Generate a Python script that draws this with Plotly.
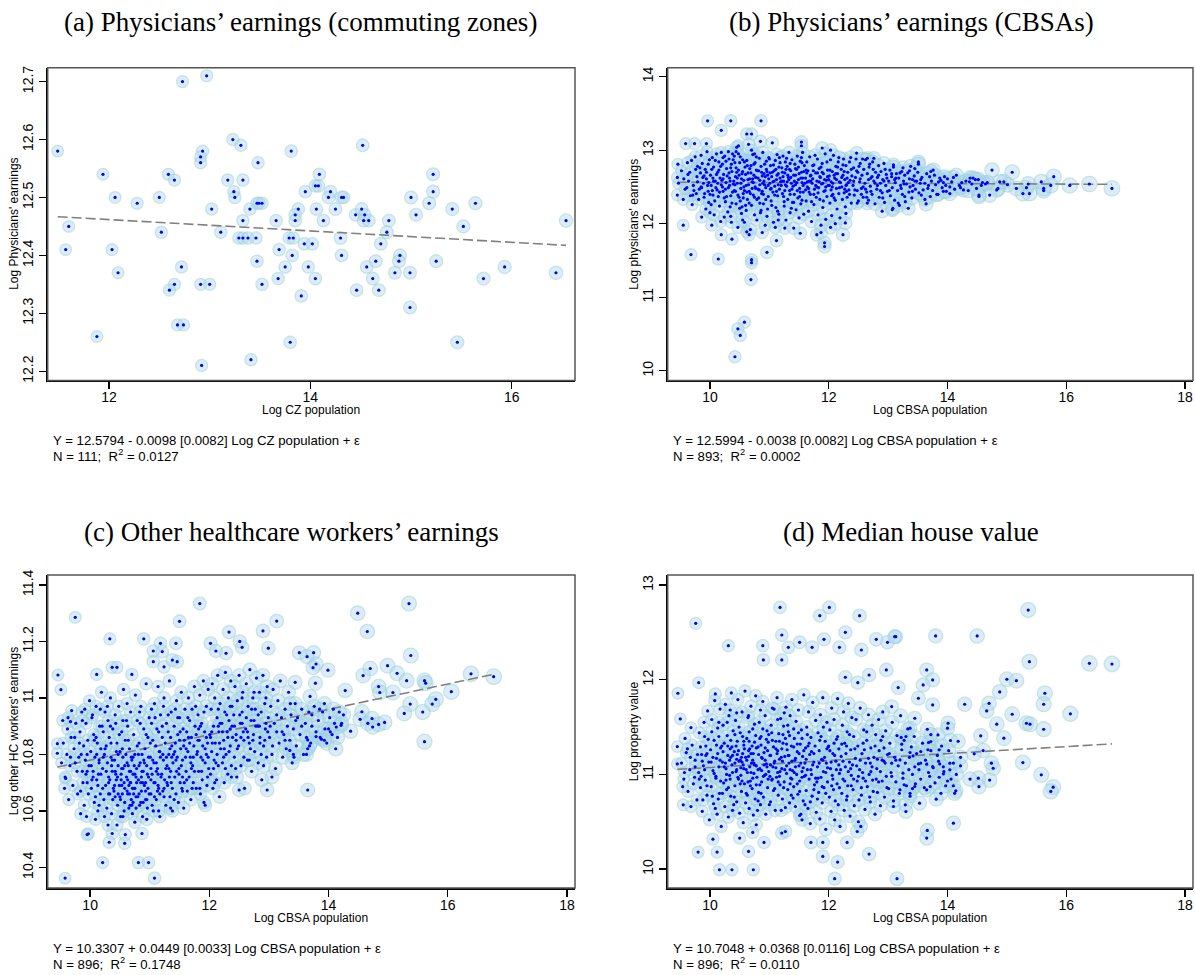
import plotly.graph_objects as go

# ---------------- data ----------------
# (a) commuting zones: (log CZ population, log physicians' earnings)
cz_points = [
    (11.49, 12.58), (11.60, 12.45), (11.57, 12.41), (11.88, 12.26), (11.94, 12.54), (12.06, 12.50),
    (12.03, 12.41), (12.09, 12.37), (12.28, 12.49), (12.50, 12.50), (12.52, 12.44), (12.59, 12.54),
    (12.65, 12.53), (12.73, 12.70), (12.97, 12.71), (12.72, 12.38), (12.65, 12.35), (12.60, 12.34),
    (12.68, 12.28), (12.74, 12.28), (12.91, 12.35), (13.00, 12.35), (12.92, 12.21), (12.93, 12.58),
    (12.91, 12.57), (12.91, 12.56), (13.02, 12.48), (13.11, 12.44), (13.23, 12.60), (13.31, 12.59),
    (13.18, 12.53), (13.33, 12.53), (13.24, 12.51), (13.25, 12.50), (13.48, 12.56), (13.40, 12.48),
    (13.33, 12.46), (13.47, 12.49), (13.49, 12.49), (13.52, 12.49), (13.29, 12.43), (13.33, 12.43),
    (13.38, 12.43), (13.46, 12.43), (13.47, 12.39), (13.52, 12.35), (13.41, 12.22), (13.66, 12.46),
    (13.81, 12.58), (13.88, 12.48), (13.85, 12.47), (13.85, 12.46), (13.79, 12.43), (13.83, 12.43),
    (13.69, 12.41), (13.82, 12.40), (13.75, 12.38), (13.68, 12.36), (13.91, 12.33), (13.80, 12.25),
    (13.95, 12.51), (13.94, 12.42), (13.98, 12.38), (14.02, 12.42),
    (14.52, 12.59), (14.09, 12.54), (14.05, 12.52), (14.08, 12.52), (14.20, 12.51), (14.18, 12.50),
    (14.31, 12.50), (14.33, 12.50), (14.06, 12.48), (14.25, 12.48), (14.13, 12.46), (14.45, 12.47),
    (14.51, 12.48), (14.54, 12.47), (14.53, 12.46), (14.58, 12.46), (14.78, 12.46), (14.76, 12.44),
    (14.30, 12.43), (14.70, 12.42), (14.31, 12.40), (14.05, 12.36), (14.56, 12.38), (14.65, 12.39),
    (14.62, 12.36), (14.46, 12.34), (14.68, 12.34), (14.89, 12.40), (14.88, 12.39), (14.84, 12.37),
    (14.99, 12.37), (14.99, 12.31), (15.00, 12.50), (15.05, 12.47), (15.22, 12.54), (15.22, 12.51),
    (15.18, 12.49), (15.25, 12.39), (15.41, 12.48), (15.52, 12.45), (15.64, 12.49), (15.46, 12.25),
    (15.72, 12.36), (15.93, 12.38), (16.44, 12.37), (16.54, 12.46),
]

# (b) CBSAs: (log CBSA population, log physicians' earnings)
cbsa_phys_points = [
    (9.45, 12.39), (9.45, 12.63), (9.46, 12.81), (9.55, 11.98), (9.59, 13.09), (9.74, 13.09),
    (9.68, 11.58), (9.71, 12.39), (9.96, 13.40), (9.94, 13.09), (9.86, 12.09), (10.03, 11.98),
    (10.00, 12.15), (10.19, 13.27), (10.35, 13.40), (10.86, 13.40), (10.14, 11.52), (10.19, 11.85),
    (10.37, 11.79), (10.58, 10.66), (10.47, 10.57), (10.51, 10.48), (10.42, 10.19), (10.69, 11.24),
    (10.70, 11.51), (10.70, 11.47), (10.62, 11.89), (10.96, 11.61), (11.12, 11.77), (10.62, 13.22),
    (10.70, 13.22), (10.48, 13.06), (11.26, 11.94), (11.52, 11.87), (11.41, 11.94), (11.54, 13.11),
    (11.54, 13.06), (11.80, 11.85), (11.93, 11.74), (11.93, 11.69), (11.87, 11.88), (12.03, 11.95),
    (12.24, 11.85), (12.28, 12.01), (12.29, 12.14), (11.89, 13.03), (12.03, 13.00), (12.47, 12.96),
    (12.65, 12.89), (12.76, 12.89), (12.90, 12.17), (13.07, 12.19), (12.65, 12.28), (12.48, 12.28),
    (16.77, 12.48), (16.39, 12.54), (16.06, 12.52), (15.79, 12.64), (15.62, 12.48), (15.62, 12.45),
    (15.58, 12.57), (15.74, 12.52), (15.38, 12.41), (15.27, 12.41), (15.33, 12.49), (15.36, 12.54),
    (15.16, 12.48), (15.09, 12.70), (15.01, 12.53), (14.95, 12.57), (14.88, 12.57), (14.85, 12.48),
    (14.83, 12.46), (14.75, 12.73), (14.71, 12.39), (14.67, 12.56), (14.64, 12.54), (14.59, 12.56),
    (14.57, 12.52), (14.53, 12.39), (14.53, 12.37), (14.52, 12.60), (14.43, 12.62), (14.38, 12.62),
    (14.27, 12.46), (14.24, 12.56), (14.10, 12.63), (14.04, 12.41), (14.04, 12.50), (13.98, 12.44),
    (13.93, 12.56), (13.87, 12.62), (13.84, 12.40), (13.76, 12.73), (13.70, 12.64), (13.71, 12.37),
    (13.62, 12.33), (13.64, 12.27), (13.56, 12.39), (13.51, 12.84), (13.51, 12.81), (13.45, 12.75),
    (13.41, 12.60), (13.37, 12.50), (13.34, 12.21), (13.28, 12.37), (13.25, 12.76), (13.20, 12.69),
    (13.17, 12.28), (13.11, 12.60), (13.09, 12.80), (13.08, 12.21),
    (9.47, 12.55), (9.52, 12.72), (9.56, 12.61), (9.58, 12.47), (9.62, 12.83), (9.55, 12.33),
    (9.64, 12.58), (9.66, 12.70), (9.69, 12.86), (9.72, 12.52), (9.75, 12.91), (9.78, 12.64),
    (9.77, 12.41), (9.70, 12.26), (9.79, 12.78),
    (9.82, 12.47), (9.84, 12.69), (9.85, 12.93), (9.87, 12.82), (9.89, 12.55), (9.90, 12.36),
    (9.92, 12.74), (9.94, 12.61), (9.95, 12.98), (9.97, 12.44), (9.98, 12.29), (9.99, 12.87), (9.93, 12.20),
    (10.01, 12.66), (10.02, 12.52), (10.04, 12.90), (10.05, 12.39), (10.06, 12.77), (10.08, 12.31),
    (10.09, 12.58), (10.11, 12.95), (10.12, 12.46), (10.13, 12.70), (10.15, 12.84), (10.16, 12.24),
    (10.17, 12.62), (10.18, 12.03), (10.19, 12.53), (10.07, 12.12), (10.14, 12.37),
    (10.21, 12.81), (10.22, 12.44), (10.23, 12.67), (10.25, 12.92), (10.26, 12.30), (10.27, 12.56),
    (10.28, 12.75), (10.30, 12.16), (10.31, 12.49), (10.32, 12.88), (10.33, 12.62), (10.35, 12.38),
    (10.36, 12.02), (10.37, 12.71), (10.38, 12.95), (10.39, 12.54), (10.24, 12.09), (10.34, 12.23),
    (10.41, 12.45), (10.42, 12.83), (10.43, 12.64), (10.44, 12.27), (10.45, 13.04), (10.46, 12.55),
    (10.47, 11.95), (10.48, 12.73), (10.49, 12.36), (10.51, 12.91), (10.52, 12.48), (10.53, 12.14),
    (10.54, 12.68), (10.55, 12.87), (10.56, 12.41), (10.57, 12.59), (10.58, 12.02), (10.59, 12.77),
    (10.50, 12.21), (10.44, 12.98),
    (10.61, 12.52), (10.62, 12.86), (10.63, 12.33), (10.64, 12.69), (10.65, 13.08), (10.66, 12.44),
    (10.67, 12.61), (10.68, 11.92), (10.69, 12.79), (10.70, 12.25), (10.71, 12.57), (10.72, 12.94),
    (10.73, 12.39), (10.74, 12.66), (10.75, 12.12), (10.76, 12.83), (10.77, 12.48), (10.78, 12.73),
    (10.79, 12.05), (10.70, 13.00), (10.66, 11.85),
    (10.81, 12.62), (10.82, 12.35), (10.83, 12.89), (10.84, 12.53), (10.85, 13.12), (10.86, 12.18),
    (10.87, 12.70), (10.88, 12.44), (10.89, 12.97), (10.90, 12.27), (10.91, 12.58), (10.92, 12.81),
    (10.93, 11.98), (10.94, 12.49), (10.95, 12.74), (10.96, 12.10), (10.97, 12.66), (10.98, 12.37),
    (10.99, 12.90), (10.88, 11.88),
    (11.01, 12.55), (11.02, 12.79), (11.03, 12.31), (11.04, 12.64), (11.05, 13.10), (11.06, 12.43),
    (11.07, 12.02), (11.08, 12.72), (11.09, 12.51), (11.10, 12.86), (11.11, 12.22), (11.12, 12.60),
    (11.13, 12.94), (11.14, 12.38), (11.15, 12.68), (11.16, 12.13), (11.17, 12.47), (11.18, 12.83),
    (11.19, 12.57), (11.10, 11.95),
    (11.21, 12.76), (11.22, 12.41), (11.23, 12.92), (11.24, 12.58), (11.25, 12.24), (11.26, 12.69),
    (11.27, 12.84), (11.28, 12.05), (11.29, 12.51), (11.30, 12.78), (11.31, 12.33), (11.32, 12.63),
    (11.33, 12.97), (11.34, 12.45), (11.35, 12.15), (11.36, 12.72), (11.37, 12.55), (11.38, 12.87),
    (11.39, 12.29),
    (11.41, 12.66), (11.42, 12.40), (11.43, 12.81), (11.44, 12.53), (11.45, 12.19), (11.46, 12.74),
    (11.47, 12.92), (11.48, 12.35), (11.49, 12.60), (11.50, 12.08), (11.51, 12.48), (11.52, 12.85),
    (11.53, 12.27), (11.54, 12.70), (11.55, 12.56), (11.56, 12.97), (11.57, 12.43), (11.58, 12.13),
    (11.59, 12.79),
    (11.61, 12.62), (11.62, 12.31), (11.63, 12.84), (11.64, 12.50), (11.65, 12.72), (11.66, 12.17),
    (11.67, 12.58), (11.68, 12.91), (11.69, 12.40), (11.70, 12.66), (11.71, 12.03), (11.72, 12.55),
    (11.73, 12.79), (11.75, 12.26), (11.76, 12.47), (11.78, 12.69), (11.79, 12.36),
    (11.80, 12.58), (11.81, 12.88), (11.82, 12.12), (11.83, 12.49), (11.84, 12.75), (11.85, 12.33),
    (11.86, 12.63), (11.87, 11.98), (11.88, 12.54), (11.89, 12.82), (11.90, 12.22), (11.91, 12.68),
    (11.92, 12.44), (11.94, 12.95), (11.95, 12.06), (11.96, 12.59), (11.97, 12.37), (11.98, 12.73),
    (11.99, 12.52),
    (12.01, 12.65), (12.02, 12.28), (12.03, 12.87), (12.04, 12.46), (12.05, 12.11), (12.06, 12.71),
    (12.07, 12.55), (12.08, 12.93), (12.09, 12.35), (12.10, 12.62), (12.11, 12.00), (12.12, 12.78),
    (12.13, 12.48), (12.14, 12.20), (12.15, 12.68), (12.16, 12.84), (12.17, 12.41), (12.18, 12.57),
    (12.19, 12.08),
    (12.21, 12.74), (12.22, 12.50), (12.23, 12.33), (12.24, 12.66), (12.25, 12.88), (12.26, 12.42),
    (12.27, 12.60), (12.28, 12.23), (12.29, 12.79), (12.30, 12.53), (12.31, 12.36), (12.32, 12.70),
    (12.34, 12.46), (12.35, 12.84), (12.36, 12.59), (12.38, 12.28), (12.39, 12.65),
    (12.41, 12.52), (12.42, 12.76), (12.43, 12.39), (12.45, 12.63), (12.46, 12.88), (12.48, 12.45),
    (12.49, 12.70), (12.50, 12.31), (12.52, 12.57), (12.53, 12.82), (12.55, 12.48), (12.56, 12.66),
    (12.58, 12.36), (12.59, 12.74),
    (12.61, 12.55), (12.62, 12.87), (12.64, 12.43), (12.65, 12.68), (12.67, 12.32), (12.68, 12.77),
    (12.70, 12.51), (12.71, 12.62), (12.73, 12.40), (12.74, 12.84), (12.76, 12.58), (12.78, 12.27),
    (12.79, 12.70),
    (12.81, 12.47), (12.82, 12.63), (12.84, 12.79), (12.85, 12.36), (12.87, 12.55), (12.88, 12.71),
    (12.90, 12.42), (12.91, 12.60), (12.93, 12.82), (12.94, 12.29), (12.96, 12.52), (12.97, 12.67),
    (12.99, 12.44),
    (13.01, 12.58), (13.03, 12.73), (13.04, 12.38), (13.06, 12.64), (13.07, 12.49), (13.09, 12.77),
    (13.11, 12.32), (13.12, 12.56), (13.14, 12.68), (13.16, 12.45), (13.18, 12.62), (13.19, 12.25),
    (13.21, 12.52), (13.23, 12.71), (13.24, 12.40), (13.26, 12.58), (13.28, 12.66), (13.29, 12.30),
    (13.31, 12.54), (13.33, 12.69), (13.35, 12.43), (13.36, 12.61), (13.38, 12.78), (13.40, 12.35),
    (13.42, 12.52), (13.44, 12.65), (13.46, 12.47), (13.48, 12.58), (13.50, 12.70), (13.52, 12.42),
    (13.54, 12.55), (13.57, 12.63), (13.59, 12.46),
    (13.62, 12.55), (13.65, 12.68), (13.67, 12.48), (13.73, 12.58), (13.75, 12.45), (13.78, 12.66),
    (13.80, 12.53), (13.82, 12.40), (13.89, 12.59), (13.91, 12.49), (13.95, 12.64), (13.97, 12.52),
    (14.07, 12.57), (14.12, 12.47), (14.15, 12.66), (14.20, 12.52), (14.31, 12.58), (14.35, 12.45),
    (14.41, 12.54), (14.47, 12.60), (14.49, 12.48),
]
cbsa_phys_more = [
    (9.73, 12.45), (9.63, 12.67), (9.79, 12.57), (9.67, 12.38), (9.76, 12.74), (9.61, 12.49),
    (9.96, 12.52), (9.83, 12.76), (9.91, 12.41), (9.88, 12.63), (9.97, 12.81), (9.81, 12.33),
    (9.94, 12.70), (9.86, 12.49),
    (10.13, 12.55), (10.04, 12.45), (10.18, 12.78), (10.09, 12.86), (10.02, 12.26), (10.16, 12.43),
    (10.11, 12.67), (10.06, 12.58), (10.19, 12.97), (10.03, 12.74),
    (10.33, 12.52), (10.22, 12.61), (10.38, 12.43), (10.27, 12.85), (10.35, 12.76), (10.24, 12.35),
    (10.31, 12.98), (10.29, 12.65), (10.37, 12.28), (10.21, 12.50), (10.34, 12.58),
    (10.53, 12.61), (10.42, 12.53), (10.58, 12.84), (10.47, 12.39), (10.55, 12.71), (10.44, 12.76),
    (10.51, 12.31), (10.49, 12.66), (10.57, 12.50), (10.41, 12.92), (10.54, 12.23), (10.46, 12.62),
    (10.73, 12.56), (10.62, 12.43), (10.78, 12.91), (10.67, 12.75), (10.75, 12.36), (10.64, 12.60),
    (10.71, 12.48), (10.69, 12.69), (10.77, 12.63), (10.61, 12.18), (10.74, 12.81), (10.66, 12.28),
    (10.93, 12.64), (10.82, 12.72), (10.98, 12.52), (10.87, 12.41), (10.95, 12.85), (10.84, 12.28),
    (10.91, 12.68), (10.89, 12.55), (10.97, 12.20), (10.81, 12.47), (10.94, 12.33), (10.86, 12.78),
    (11.13, 12.66), (11.02, 12.47), (11.18, 12.62), (11.07, 12.80), (11.15, 12.53), (11.04, 12.25),
    (11.11, 12.74), (11.09, 12.39), (11.17, 12.90), (11.01, 12.69), (11.14, 12.17), (11.06, 12.57),
    (11.33, 12.60), (11.22, 12.70), (11.38, 12.47), (11.27, 12.53), (11.35, 12.82), (11.24, 12.37),
    (11.31, 12.66), (11.29, 12.89), (11.37, 12.21), (11.21, 12.58), (11.34, 12.74),
    (11.53, 12.62), (11.42, 12.58), (11.58, 12.71), (11.47, 12.45), (11.55, 12.83), (11.44, 12.66),
    (11.51, 12.37), (11.49, 12.77), (11.57, 12.52), (11.41, 12.29), (11.54, 12.90),
    (11.73, 12.61), (11.62, 12.73), (11.78, 12.52), (11.67, 12.43), (11.75, 12.80), (11.64, 12.57),
    (11.71, 12.30), (11.69, 12.65), (11.77, 12.93), (11.61, 12.46),
    (11.93, 12.60), (11.82, 12.42), (11.98, 12.64), (11.87, 12.77), (11.95, 12.50), (11.84, 12.57),
    (11.91, 12.31), (11.89, 12.70), (11.97, 12.84), (11.81, 12.69),
    (12.13, 12.60), (12.02, 12.73), (12.18, 12.49), (12.07, 12.40), (12.15, 12.77), (12.04, 12.57),
    (12.11, 12.32), (12.09, 12.66), (12.17, 12.90), (12.01, 12.52),
    (12.33, 12.56), (12.22, 12.63), (12.38, 12.74), (12.27, 12.47), (12.35, 12.40), (12.24, 12.80),
    (12.31, 12.62), (12.29, 12.52), (12.37, 12.90),
    (12.53, 12.61), (12.42, 12.58), (12.58, 12.50), (12.47, 12.72), (12.55, 12.40), (12.44, 12.46),
    (12.51, 12.78), (12.57, 12.88),
    (12.73, 12.64), (12.62, 12.47), (12.78, 12.55), (12.67, 12.60), (12.75, 12.74), (12.64, 12.36),
    (12.71, 12.44), (12.69, 12.81),
    (12.93, 12.58), (12.82, 12.52), (12.98, 12.62), (12.87, 12.45), (12.95, 12.74), (12.84, 12.66),
    (12.91, 12.35),
    (13.13, 12.62), (13.02, 12.45), (13.27, 12.54), (13.36, 12.72), (13.45, 12.58), (13.22, 12.48),
    (13.41, 12.44), (13.06, 12.68),
    (13.55, 12.60), (13.68, 12.52), (13.85, 12.57), (14.00, 12.61), (14.22, 12.49), (14.37, 12.57),
    (13.93, 12.44), (13.72, 12.71),
    (10.26, 12.47), (10.32, 12.69), (10.40, 12.58), (10.43, 12.44), (10.36, 12.81), (10.28, 12.37),
    (10.45, 12.70), (10.39, 12.87), (10.52, 12.55), (10.60, 12.67), (10.56, 12.35), (10.63, 12.79),
    (10.58, 12.45), (10.50, 12.83), (10.65, 12.53), (10.68, 12.41), (10.72, 12.61), (10.76, 12.50),
    (10.80, 12.72), (10.84, 12.59), (10.79, 12.33), (10.83, 12.46), (10.88, 12.65), (10.92, 12.53),
    (10.96, 12.71), (10.90, 12.40), (10.99, 12.61), (11.03, 12.48), (11.05, 12.70), (11.08, 12.58),
    (11.12, 12.44), (11.16, 12.77), (11.20, 12.52), (11.23, 12.64), (11.26, 12.45), (11.30, 12.57),
    (11.28, 12.74), (11.36, 12.63), (11.40, 12.51), (11.44, 12.75), (11.46, 12.56), (11.50, 12.68),
    (11.52, 12.43), (11.56, 12.62), (11.60, 12.55), (11.63, 12.69), (11.66, 12.48), (11.70, 12.58),
    (11.74, 12.72), (11.80, 12.50), (11.85, 12.64), (11.90, 12.55), (11.94, 12.45), (12.00, 12.60),
    (12.06, 12.50), (12.12, 12.68), (12.20, 12.56), (12.26, 12.71), (12.30, 12.44), (10.05, 12.62),
    (10.10, 12.49), (10.15, 12.73), (10.20, 12.59), (9.98, 12.56), (9.90, 12.65), (9.85, 12.50),
    (10.00, 12.40), (10.22, 12.90), (10.48, 12.95), (10.75, 12.95), (11.00, 12.88), (11.25, 12.30),
    (10.60, 12.25), (10.85, 12.15), (11.35, 12.40), (11.55, 12.32), (11.75, 12.40), (12.05, 12.38),
    (10.35, 12.10), (10.55, 12.05), (11.15, 12.05),
]

# (c) CBSAs: (log CBSA population, log other HC workers' earnings)
cbsa_hc_points = [
    (9.75, 11.285), (11.84, 11.334), (11.50, 11.271), (9.46, 11.081), (9.51, 11.029), (9.45, 10.838),
    (9.45, 10.804), (10.33, 11.209), (10.90, 11.209), (11.18, 11.193), (11.44, 11.193), (11.06, 11.166),
    (11.21, 11.164), (11.06, 11.128), (11.24, 11.110), (11.46, 11.128), (11.38, 11.134), (10.37, 11.108),
    (10.45, 11.108), (10.11, 11.083), (10.70, 11.083), (9.69, 10.955), (9.67, 10.916), (9.59, 10.715),
    (12.33, 11.233), (12.02, 11.193), (12.11, 11.166), (12.28, 11.158), (12.51, 11.200), (12.55, 11.179),
    (12.90, 11.237), (13.13, 11.272), (12.99, 11.176), (13.51, 11.160), (12.50, 10.674), (12.97, 10.674),
    (11.93, 10.620), (13.05, 10.720),
    (15.35, 11.334), (14.49, 11.300), (14.65, 11.235), (15.38, 11.150), (16.39, 11.085), (16.77, 11.075),
    (16.06, 11.022), (15.61, 10.845), (13.65, 10.674), (13.75, 11.160), (13.64, 11.146), (13.79, 11.120),
    (13.74, 11.107), (13.99, 11.098), (13.44, 11.055), (13.78, 11.052), (14.28, 11.026), (14.58, 11.079),
    (14.70, 11.104), (14.99, 11.114), (15.15, 11.087), (15.31, 11.061), (14.84, 11.040), (14.86, 11.019),
    (15.08, 11.019), (15.61, 11.061), (15.63, 11.052), (15.80, 10.995), (15.74, 10.978), (15.37, 10.978),
    (15.27, 10.945), (15.58, 10.950), (13.69, 11.005), (13.93, 10.980), (14.08, 10.960), (14.25, 10.940),
    (14.56, 10.951), (14.53, 10.924), (14.66, 10.910), (14.73, 10.927), (14.84, 10.906), (14.94, 10.913),
    (14.74, 10.897), (14.37, 10.882), (14.21, 10.903), (14.13, 10.897), (14.03, 10.880), (13.88, 10.854),
    (13.79, 10.863), (13.65, 10.851), (13.63, 10.800), (13.42, 10.790), (13.35, 10.814), (13.65, 10.820),
    (9.58, 10.362), (10.21, 10.417), (10.81, 10.417), (10.98, 10.417), (11.08, 10.362), (9.97, 10.519),
    (9.95, 10.516), (10.37, 10.520), (10.32, 10.489), (10.59, 10.516), (10.58, 10.485), (10.87, 10.520),
    (9.52, 10.77), (9.55, 10.84), (9.58, 10.72), (9.61, 10.80), (9.63, 10.93), (9.66, 10.76),
    (9.68, 10.86), (9.71, 10.69), (9.73, 10.82), (9.76, 10.91), (9.78, 10.74), (9.64, 10.64),
    (9.81, 10.79), (9.83, 10.88), (9.84, 10.67), (9.86, 10.95), (9.87, 10.74), (9.89, 10.83),
    (9.90, 10.62), (9.92, 10.78), (9.93, 10.91), (9.95, 10.70), (9.96, 10.85), (9.98, 10.76),
    (9.99, 10.99), (9.94, 10.58),
    (10.01, 10.81), (10.02, 10.68), (10.03, 10.93), (10.05, 10.74), (10.06, 10.87), (10.07, 10.63),
    (10.08, 10.79), (10.10, 10.97), (10.11, 10.71), (10.12, 10.84), (10.13, 10.60), (10.15, 10.77),
    (10.16, 10.90), (10.17, 10.66), (10.18, 10.82), (10.19, 11.02), (10.14, 10.73), (10.09, 10.57),
    (10.21, 10.75), (10.22, 10.88), (10.23, 10.64), (10.24, 10.80), (10.25, 10.95), (10.26, 10.69),
    (10.27, 10.83), (10.28, 10.61), (10.29, 10.77), (10.30, 10.92), (10.31, 10.72), (10.32, 10.86),
    (10.33, 10.66), (10.34, 11.00), (10.35, 10.79), (10.36, 10.59), (10.37, 10.74), (10.38, 10.89),
    (10.39, 10.68), (10.30, 10.55),
    (10.41, 10.78), (10.42, 10.65), (10.43, 10.91), (10.44, 10.71), (10.45, 10.84), (10.46, 10.62),
    (10.47, 10.76), (10.48, 10.97), (10.49, 10.69), (10.50, 10.81), (10.51, 10.58), (10.52, 10.73),
    (10.53, 10.88), (10.54, 10.66), (10.55, 10.79), (10.56, 11.03), (10.57, 10.70), (10.58, 10.63),
    (10.59, 10.85), (10.45, 10.55), (10.53, 10.75),
    (10.61, 10.72), (10.62, 10.67), (10.63, 10.90), (10.64, 10.76), (10.65, 10.61), (10.66, 10.82),
    (10.67, 10.70), (10.68, 10.95), (10.69, 10.64), (10.70, 10.78), (10.71, 10.59), (10.72, 10.73),
    (10.73, 10.87), (10.74, 10.68), (10.75, 10.80), (10.76, 11.01), (10.77, 10.65), (10.78, 10.75),
    (10.79, 10.92), (10.65, 10.69), (10.72, 10.63), (10.68, 10.74),
    (10.81, 10.71), (10.82, 10.84), (10.83, 10.62), (10.84, 10.77), (10.85, 10.97), (10.86, 10.67),
    (10.87, 10.80), (10.88, 10.58), (10.89, 10.74), (10.90, 10.89), (10.91, 10.69), (10.92, 10.82),
    (10.93, 10.64), (10.94, 11.05), (10.95, 10.76), (10.96, 10.61), (10.97, 10.86), (10.98, 10.72),
    (10.99, 10.93), (10.85, 10.70),
    (11.01, 10.79), (11.02, 10.66), (11.03, 10.91), (11.04, 10.73), (11.05, 10.85), (11.06, 10.60),
    (11.07, 10.77), (11.08, 10.98), (11.09, 10.70), (11.10, 10.83), (11.11, 10.64), (11.12, 10.89),
    (11.13, 10.75), (11.14, 11.04), (11.15, 10.68), (11.16, 10.81), (11.17, 10.58), (11.18, 10.94),
    (11.19, 10.72),
    (11.21, 10.86), (11.22, 10.67), (11.23, 10.78), (11.24, 11.00), (11.25, 10.71), (11.26, 10.84),
    (11.27, 10.62), (11.28, 10.91), (11.29, 10.76), (11.30, 10.69), (11.31, 10.88), (11.32, 10.80),
    (11.33, 11.06), (11.34, 10.65), (11.35, 10.74), (11.36, 10.95), (11.37, 10.83), (11.38, 10.60),
    (11.39, 10.77),
    (11.41, 10.90), (11.42, 10.72), (11.43, 10.84), (11.44, 10.66), (11.45, 10.99), (11.46, 10.79),
    (11.47, 10.87), (11.48, 10.63), (11.49, 10.75), (11.50, 10.93), (11.51, 10.70), (11.52, 10.82),
    (11.53, 11.02), (11.54, 10.68), (11.55, 10.78), (11.56, 10.89), (11.57, 10.61), (11.58, 10.85),
    (11.59, 10.96),
    (11.61, 10.74), (11.62, 10.88), (11.63, 10.67), (11.64, 10.81), (11.65, 11.00), (11.66, 10.72),
    (11.67, 10.92), (11.68, 10.79), (11.69, 10.64), (11.70, 10.86), (11.71, 10.96), (11.72, 10.76),
    (11.73, 10.70), (11.74, 10.83), (11.75, 11.04), (11.76, 10.90), (11.78, 10.68), (11.79, 10.80),
    (11.81, 10.94), (11.82, 10.74), (11.83, 10.85), (11.84, 11.01), (11.85, 10.66), (11.86, 10.79),
    (11.87, 10.91), (11.88, 10.71), (11.89, 10.83), (11.90, 11.06), (11.91, 10.63), (11.92, 10.88),
    (11.93, 10.77), (11.95, 10.97), (11.96, 10.69), (11.97, 10.84), (11.98, 11.03), (11.99, 10.75),
    (12.01, 10.87), (12.02, 10.73), (12.03, 10.96), (12.04, 10.81), (12.05, 11.05), (12.06, 10.68),
    (12.07, 10.90), (12.08, 10.78), (12.09, 11.00), (12.10, 10.84), (12.12, 10.71), (12.13, 10.93),
    (12.14, 11.08), (12.15, 10.76), (12.16, 10.88), (12.17, 10.65), (12.18, 10.98), (12.19, 10.82),
    (12.21, 10.91), (12.22, 10.77), (12.23, 11.03), (12.24, 10.85), (12.25, 10.70), (12.26, 10.95),
    (12.27, 11.09), (12.28, 10.80), (12.30, 10.88), (12.31, 10.73), (12.32, 11.00), (12.33, 10.92),
    (12.35, 10.83), (12.36, 11.06), (12.37, 10.76), (12.38, 10.97), (12.39, 10.86),
    (12.41, 10.94), (12.42, 10.79), (12.43, 11.04), (12.45, 10.87), (12.46, 10.72), (12.47, 10.99),
    (12.49, 10.83), (12.50, 11.08), (12.52, 10.91), (12.53, 10.76), (12.55, 10.95), (12.56, 11.02),
    (12.58, 10.85), (12.59, 10.68),
    (12.61, 10.89), (12.62, 11.05), (12.64, 10.78), (12.65, 10.97), (12.67, 10.84), (12.68, 11.10),
    (12.70, 10.92), (12.71, 10.74), (12.73, 11.00), (12.74, 10.87), (12.76, 10.81), (12.77, 10.96),
    (12.79, 11.07),
    (12.81, 10.90), (12.82, 10.77), (12.84, 11.02), (12.85, 10.86), (12.87, 10.95), (12.88, 10.71),
    (12.90, 11.08), (12.91, 10.83), (12.93, 10.98), (12.94, 10.89), (12.96, 10.79), (12.97, 11.04),
    (12.99, 10.93),
    (13.01, 10.86), (13.03, 10.97), (13.05, 10.80), (13.07, 11.03), (13.09, 10.91), (13.11, 10.75),
    (13.13, 10.88), (13.15, 10.99), (13.17, 10.84), (13.19, 11.06), (13.21, 10.93), (13.23, 10.79),
    (13.25, 10.87), (13.27, 10.96), (13.29, 10.82), (13.31, 10.90), (13.33, 11.02), (13.35, 10.85),
    (13.37, 10.94), (13.39, 10.77),
    (13.41, 10.89), (13.44, 10.98), (13.46, 10.83), (13.48, 10.93), (13.52, 10.87), (13.55, 10.96),
    (13.58, 10.80), (13.61, 10.91), (13.63, 10.86), (13.67, 10.95), (13.70, 10.84), (13.72, 10.90),
    (13.76, 10.97), (13.79, 10.88),
    (13.83, 10.92), (13.86, 10.86), (13.90, 10.95), (13.94, 10.89), (13.97, 10.84), (14.02, 10.93),
    (14.06, 10.87), (14.10, 10.91), (14.15, 10.86), (14.18, 10.95),
]
cbsa_hc_more = [
    (9.67, 10.79), (9.57, 10.68), (9.74, 10.86), (9.62, 10.89), (9.79, 10.66), (9.54, 10.92),
    (9.93, 10.73), (9.82, 10.84), (9.97, 10.66), (9.87, 10.92), (9.95, 10.80), (9.84, 10.59),
    (9.91, 10.96), (9.88, 10.70),
    (10.13, 10.69), (10.02, 10.76), (10.18, 10.73), (10.07, 10.85), (10.15, 10.62), (10.04, 10.94),
    (10.11, 10.80), (10.09, 10.65), (10.17, 10.96), (10.03, 10.71),
    (10.33, 10.71), (10.22, 10.79), (10.38, 10.64), (10.27, 10.74), (10.35, 10.84), (10.24, 10.58),
    (10.31, 10.66), (10.29, 10.97), (10.37, 10.78), (10.21, 10.68), (10.34, 10.90),
    (10.53, 10.69), (10.42, 10.74), (10.58, 10.76), (10.47, 10.66), (10.55, 10.92), (10.44, 10.81),
    (10.51, 10.64), (10.49, 10.87), (10.57, 10.60), (10.41, 10.69), (10.54, 10.82), (10.46, 10.72),
    (10.73, 10.66), (10.62, 10.77), (10.78, 10.70), (10.67, 10.62), (10.75, 10.73), (10.64, 10.85),
    (10.71, 10.68), (10.69, 10.79), (10.77, 10.61), (10.61, 10.92), (10.74, 10.76), (10.66, 10.66),
    (10.79, 10.83), (10.63, 10.71),
    (10.93, 10.70), (10.82, 10.66), (10.98, 10.79), (10.87, 10.74), (10.95, 10.64), (10.84, 10.91),
    (10.91, 10.77), (10.89, 10.63), (10.97, 10.68), (10.81, 10.80), (10.94, 10.87), (10.86, 10.72),
    (11.13, 10.67), (11.02, 10.75), (11.18, 10.79), (11.07, 10.70), (11.15, 10.88), (11.04, 10.62),
    (11.11, 10.77), (11.09, 10.93), (11.17, 10.66), (11.01, 10.84), (11.14, 10.73),
    (11.33, 10.72), (11.22, 10.80), (11.38, 10.68), (11.27, 10.75), (11.35, 10.86), (11.24, 10.65),
    (11.31, 10.94), (11.29, 10.70), (11.37, 10.79), (11.21, 10.90), (11.34, 10.82),
    (11.53, 10.76), (11.42, 10.81), (11.58, 10.70), (11.47, 10.93), (11.55, 10.67), (11.44, 10.78),
    (11.51, 10.88), (11.49, 10.73), (11.57, 10.83), (11.41, 10.64),
    (11.73, 10.79), (11.62, 10.71), (11.78, 10.87), (11.67, 10.84), (11.75, 10.74), (11.64, 10.93),
    (11.71, 10.68), (11.69, 10.77), (11.77, 10.97), (11.61, 10.82),
    (11.93, 10.82), (11.82, 10.89), (11.98, 10.79), (11.87, 10.74), (11.95, 10.86), (11.84, 10.68),
    (11.91, 10.95), (11.89, 10.78), (11.97, 10.72), (11.81, 10.85),
    (12.13, 10.80), (12.02, 10.86), (12.18, 10.91), (12.07, 10.75), (12.15, 10.96), (12.04, 10.88),
    (12.11, 10.77), (12.09, 10.70), (12.17, 10.84),
    (12.33, 10.81), (12.22, 10.88), (12.38, 10.90), (12.27, 10.75), (12.35, 10.97), (12.24, 10.79),
    (12.31, 10.86), (12.29, 10.94), (12.37, 10.72),
    (12.53, 10.86), (12.42, 10.90), (12.58, 10.79), (12.47, 10.82), (12.55, 11.00), (12.44, 10.75),
    (12.51, 10.94), (12.57, 10.88),
    (12.73, 10.85), (12.62, 10.93), (12.78, 10.90), (12.67, 10.78), (12.75, 11.02), (12.64, 10.88),
    (12.71, 10.96), (12.69, 10.82),
    (12.93, 10.85), (12.82, 10.94), (12.98, 10.88), (12.87, 10.80), (12.95, 11.00), (12.84, 10.90),
    (12.91, 10.76),
    (13.13, 10.94), (13.02, 10.90), (13.27, 10.85), (13.36, 10.98), (13.45, 10.92), (13.22, 10.88),
    (13.41, 10.80), (13.06, 10.83),
    (13.55, 10.90), (13.68, 10.83), (13.85, 10.96), (14.00, 10.89), (14.22, 10.91), (13.93, 10.85),
    (13.72, 10.94), (14.12, 10.82),
    (10.31, 10.70), (10.36, 10.76), (10.40, 10.67), (10.43, 10.73), (10.47, 10.80), (10.50, 10.65),
    (10.52, 10.71), (10.55, 10.75), (10.58, 10.68), (10.60, 10.80), (10.63, 10.66), (10.66, 10.74),
    (10.68, 10.70), (10.70, 10.62), (10.72, 10.79), (10.75, 10.68), (10.77, 10.72), (10.80, 10.65),
    (10.82, 10.76), (10.85, 10.63), (10.88, 10.70), (10.90, 10.78), (10.93, 10.67), (10.96, 10.73),
    (10.99, 10.66), (11.02, 10.71), (11.05, 10.78), (11.08, 10.65), (11.11, 10.74), (11.14, 10.69),
    (11.17, 10.81), (11.20, 10.73), (11.24, 10.68), (11.28, 10.79), (11.32, 10.75), (11.36, 10.70),
    (11.40, 10.80), (11.45, 10.74), (11.50, 10.85), (11.55, 10.72), (11.60, 10.79), (11.65, 10.86),
    (11.70, 10.75), (11.80, 10.81), (11.85, 10.90), (11.95, 10.80), (12.05, 10.84), (12.15, 10.90),
    (12.25, 10.82), (12.35, 10.89), (12.45, 10.85), (12.55, 10.91), (12.65, 10.86), (12.75, 10.92),
    (12.85, 10.84), (12.95, 10.91), (10.05, 10.72), (10.10, 10.86), (10.15, 10.78), (10.20, 10.90),
    (10.25, 10.82), (9.95, 10.74), (9.85, 10.80), (9.75, 10.77), (10.42, 10.94), (10.62, 10.98),
    (10.83, 10.95), (11.03, 10.96), (11.23, 10.97), (11.43, 10.96), (10.55, 10.58), (10.75, 10.56),
    (10.95, 10.57), (11.15, 10.60), (11.35, 10.61),
]

# (d) CBSAs: (log CBSA population, log property value)
cbsa_house_points = [
    (9.46, 11.857), (9.50, 11.586), (9.45, 11.294), (9.45, 11.111), (9.55, 10.679), (9.76, 12.596),
    (9.68, 11.494), (9.81, 11.969), (9.80, 10.179), (10.05, 10.316), (10.12, 10.179), (10.16, 9.993),
    (10.37, 9.993), (10.73, 9.993), (10.65, 10.186), (10.31, 12.360), (10.89, 12.360), (10.90, 12.209),
    (11.18, 12.764), (11.21, 12.472), (11.32, 12.342), (11.21, 12.209), (11.51, 12.395), (11.72, 12.342),
    (11.85, 12.676), (11.92, 12.427), (12.01, 12.764), (12.28, 12.500), (12.18, 12.342), (12.52, 12.676),
    (12.55, 12.314), (12.80, 12.427), (12.99, 12.395), (13.13, 12.455), (12.28, 12.026), (12.49, 11.969),
    (12.68, 12.050), (12.97, 12.103), (11.21, 10.380), (11.27, 10.397), (10.91, 10.281), (11.70, 10.281),
    (11.90, 10.281), (11.90, 10.133), (12.15, 10.074), (12.10, 9.898), (12.31, 10.281), (12.68, 10.158),
    (13.15, 9.898), (10.50, 10.327), (10.78, 10.468), (10.72, 10.387), (11.51, 10.566), (11.55, 10.520),
    (12.54, 10.450), (12.48, 10.397),
    (15.36, 12.736), (14.50, 12.462), (13.80, 12.462), (13.11, 12.455), (15.38, 12.190), (16.39, 12.173),
    (16.77, 12.166), (13.65, 12.103), (15.00, 12.005), (15.16, 11.990), (13.75, 11.998), (13.59, 11.945),
    (13.17, 11.917), (14.88, 11.871), (15.64, 11.857), (15.62, 11.741), (14.70, 11.751), (14.66, 11.670),
    (14.29, 11.741), (13.75, 11.734), (13.51, 11.804), (13.06, 11.716), (16.07, 11.640), (15.09, 11.635),
    (15.33, 11.540), (15.39, 11.530), (15.62, 11.477), (14.83, 11.530), (14.95, 11.382), (14.56, 11.407),
    (13.45, 11.593), (13.37, 11.488), (13.30, 11.400), (14.01, 11.540), (14.00, 11.488), (14.05, 11.358),
    (13.84, 11.417), (13.66, 11.477), (13.72, 11.347), (14.60, 11.252), (14.45, 11.217), (15.27, 11.125),
    (15.58, 10.995), (15.78, 10.865), (15.74, 10.820), (14.10, 10.485), (13.66, 10.408), (13.65, 10.327),
    (14.74, 11.118), (14.77, 11.065), (14.71, 10.940), (14.52, 10.960), (14.53, 10.870), (14.38, 10.950),
    (14.22, 11.090), (14.10, 10.880), (14.14, 10.826), (14.04, 11.118), (14.04, 11.048), (13.93, 11.005),
    (13.89, 10.800), (13.81, 10.738), (13.71, 10.872), (13.65, 10.837), (13.53, 10.696), (13.45, 10.872),
    (13.37, 10.800), (13.29, 10.679), (13.30, 10.608), (13.20, 10.837), (13.09, 10.661), (13.65, 11.108),
    (13.51, 11.111), (13.42, 11.195), (13.25, 11.013), (13.20, 11.153), (13.75, 11.083), (13.87, 11.111),
    (13.06, 11.118), (13.86, 11.259), (13.68, 11.337), (13.55, 11.241), (13.37, 11.231), (13.23, 11.319),
    (9.52, 11.12), (9.56, 10.95), (9.60, 11.23), (9.63, 10.82), (9.66, 11.05), (9.70, 11.31),
    (9.72, 10.90), (9.75, 11.15), (9.78, 10.73), (9.58, 11.38), (9.68, 10.66),
    (9.81, 11.02), (9.82, 11.44), (9.84, 10.86), (9.86, 11.21), (9.87, 10.61), (9.89, 11.09),
    (9.90, 11.55), (9.92, 10.94), (9.93, 11.30), (9.95, 10.78), (9.96, 11.67), (9.98, 11.13),
    (9.99, 10.52), (9.91, 11.40),
    (10.01, 11.26), (10.02, 10.87), (10.03, 11.58), (10.05, 11.04), (10.06, 10.69), (10.07, 11.36),
    (10.08, 11.78), (10.10, 10.96), (10.11, 11.17), (10.12, 10.58), (10.13, 11.49), (10.15, 11.08),
    (10.16, 10.80), (10.17, 11.69), (10.18, 11.28), (10.19, 10.45), (10.09, 11.85), (10.14, 10.74),
    (10.21, 11.13), (10.22, 11.52), (10.23, 10.91), (10.24, 11.33), (10.25, 10.66), (10.26, 11.74),
    (10.27, 11.06), (10.28, 10.84), (10.29, 11.41), (10.30, 11.20), (10.31, 10.55), (10.32, 11.62),
    (10.33, 10.99), (10.34, 11.27), (10.35, 10.77), (10.36, 11.86), (10.37, 11.10), (10.38, 10.62),
    (10.39, 11.46), (10.28, 11.00), (10.35, 11.18),
    (10.41, 11.24), (10.42, 10.88), (10.43, 11.57), (10.44, 11.03), (10.45, 10.71), (10.46, 11.35),
    (10.47, 11.79), (10.48, 10.95), (10.49, 11.14), (10.50, 10.59), (10.51, 11.44), (10.52, 11.07),
    (10.53, 10.82), (10.54, 11.66), (10.55, 11.22), (10.56, 10.49), (10.57, 11.31), (10.58, 10.90),
    (10.59, 11.88), (10.45, 11.16), (10.52, 10.99), (10.56, 11.10),
    (10.61, 11.05), (10.62, 11.38), (10.63, 10.78), (10.64, 11.60), (10.65, 11.19), (10.66, 10.64),
    (10.67, 11.27), (10.68, 10.93), (10.69, 11.72), (10.70, 11.12), (10.71, 10.85), (10.72, 11.48),
    (10.73, 10.57), (10.74, 11.01), (10.75, 11.34), (10.76, 10.74), (10.77, 11.83), (10.78, 11.09),
    (10.79, 10.97), (10.65, 11.25), (10.72, 11.15), (10.68, 10.88),
    (10.81, 11.29), (10.82, 10.81), (10.83, 11.55), (10.84, 11.06), (10.85, 10.68), (10.86, 11.40),
    (10.87, 10.92), (10.88, 11.17), (10.89, 11.77), (10.90, 10.76), (10.91, 11.23), (10.92, 10.99),
    (10.93, 11.62), (10.94, 10.58), (10.95, 11.11), (10.96, 11.46), (10.97, 10.86), (10.98, 11.34),
    (10.99, 11.03), (10.86, 10.80),
    (11.01, 11.20), (11.02, 10.71), (11.03, 11.52), (11.04, 10.94), (11.05, 11.36), (11.06, 11.08),
    (11.07, 10.83), (11.08, 11.69), (11.09, 11.14), (11.10, 10.62), (11.11, 11.27), (11.12, 10.97),
    (11.13, 11.81), (11.14, 11.02), (11.15, 10.78), (11.16, 11.43), (11.17, 11.16), (11.18, 10.89),
    (11.19, 11.59),
    (11.21, 11.06), (11.22, 10.74), (11.23, 11.33), (11.24, 11.51), (11.25, 10.92), (11.26, 11.19),
    (11.27, 10.65), (11.28, 11.71), (11.29, 11.01), (11.30, 11.26), (11.31, 10.84), (11.32, 11.45),
    (11.33, 11.12), (11.34, 10.70), (11.35, 11.62), (11.36, 10.96), (11.37, 11.30), (11.38, 11.79),
    (11.39, 11.04),
    (11.41, 10.87), (11.42, 11.38), (11.43, 11.15), (11.44, 10.66), (11.45, 11.56), (11.46, 11.00),
    (11.47, 11.24), (11.48, 10.79), (11.49, 11.68), (11.50, 11.09), (11.51, 10.93), (11.52, 11.32),
    (11.53, 10.58), (11.54, 11.47), (11.55, 11.03), (11.56, 11.19), (11.57, 10.72), (11.58, 11.84),
    (11.59, 10.98),
    (11.61, 11.28), (11.62, 10.83), (11.63, 11.50), (11.64, 11.05), (11.65, 10.64), (11.66, 11.66),
    (11.67, 10.95), (11.68, 11.21), (11.69, 10.48), (11.70, 11.39), (11.71, 11.00), (11.72, 10.77),
    (11.73, 11.76), (11.75, 11.13), (11.76, 10.89), (11.78, 11.57), (11.79, 10.60),
    (11.81, 11.08), (11.82, 11.44), (11.83, 10.81), (11.84, 11.25), (11.85, 10.53), (11.86, 11.63),
    (11.87, 10.97), (11.88, 11.16), (11.89, 10.70), (11.90, 11.81), (11.91, 11.03), (11.92, 10.86),
    (11.94, 11.35), (11.95, 10.42), (11.96, 11.12), (11.97, 11.55), (11.98, 10.92), (11.99, 11.29),
    (12.01, 10.76), (12.02, 11.47), (12.03, 11.06), (12.04, 10.61), (12.05, 11.70), (12.06, 10.99),
    (12.07, 11.22), (12.08, 10.84), (12.09, 11.58), (12.10, 10.52), (12.12, 11.14), (12.13, 11.37),
    (12.14, 10.90), (12.15, 11.80), (12.16, 10.68), (12.17, 11.27), (12.18, 11.01), (12.19, 10.45),
    (12.21, 11.19), (12.22, 10.80), (12.23, 11.52), (12.24, 10.95), (12.25, 11.66), (12.26, 10.62),
    (12.27, 11.33), (12.28, 11.08), (12.30, 10.73), (12.31, 11.45), (12.32, 10.88), (12.33, 11.75),
    (12.35, 11.13), (12.36, 10.56), (12.37, 11.26), (12.38, 10.99), (12.39, 11.60),
    (12.41, 10.84), (12.42, 11.40), (12.43, 10.67), (12.45, 11.17), (12.46, 11.58), (12.48, 10.93),
    (12.49, 11.30), (12.50, 10.50), (12.52, 11.05), (12.53, 11.70), (12.55, 10.78), (12.56, 11.22),
    (12.58, 10.96), (12.59, 11.47),
    (12.61, 10.63), (12.62, 11.12), (12.64, 11.36), (12.65, 10.87), (12.67, 11.63), (12.68, 11.00),
    (12.70, 10.71), (12.71, 11.28), (12.73, 11.52), (12.74, 10.94), (12.76, 11.18), (12.78, 10.58),
    (12.79, 11.42),
    (12.81, 11.06), (12.82, 10.81), (12.84, 11.58), (12.85, 11.25), (12.87, 10.67), (12.88, 11.36),
    (12.90, 10.93), (12.91, 11.66), (12.93, 11.14), (12.94, 10.76), (12.96, 11.46), (12.97, 10.98),
    (12.99, 11.21),
    (13.01, 10.85), (13.03, 11.33), (13.05, 11.02), (13.07, 11.55), (13.09, 10.72), (13.11, 11.18),
    (13.13, 10.92), (13.15, 11.41), (13.17, 11.09), (13.19, 10.80), (13.21, 11.62), (13.23, 11.26),
    (13.25, 10.96), (13.27, 11.36), (13.29, 11.12), (13.31, 10.88), (13.33, 11.48), (13.35, 11.05),
    (13.37, 10.77), (13.39, 11.29),
    (13.41, 11.00), (13.44, 11.40), (13.46, 10.90), (13.48, 11.22), (13.52, 11.05), (13.55, 10.95),
    (13.58, 11.33), (13.61, 10.86), (13.63, 11.15), (13.67, 11.26), (13.70, 10.98), (13.72, 11.42),
    (13.76, 11.07), (13.79, 10.91),
    (13.83, 11.20), (13.86, 10.97), (13.90, 11.30), (13.94, 11.03), (13.97, 10.88), (14.02, 11.25),
    (14.06, 10.95), (14.10, 11.12), (14.15, 11.00), (14.18, 11.35),
]
cbsa_house_more = [
    (9.67, 11.18), (9.57, 11.02), (9.74, 10.97), (9.62, 11.27), (9.79, 11.21), (9.54, 10.87),
    (9.93, 11.20), (9.82, 10.95), (9.97, 11.37), (9.87, 11.14), (9.95, 10.88), (9.84, 11.29),
    (9.91, 11.05), (9.88, 10.73),
    (10.13, 11.22), (10.02, 11.13), (10.18, 10.93), (10.07, 11.01), (10.15, 11.40), (10.04, 10.77),
    (10.11, 11.31), (10.09, 10.64), (10.17, 11.15), (10.03, 11.45),
    (10.33, 11.15), (10.22, 11.24), (10.38, 11.02), (10.27, 10.94), (10.35, 11.36), (10.24, 11.08),
    (10.31, 10.86), (10.29, 11.55), (10.37, 11.29), (10.21, 10.80), (10.34, 11.68),
    (10.53, 11.18), (10.42, 11.12), (10.58, 11.27), (10.47, 10.97), (10.55, 11.40), (10.44, 11.30),
    (10.51, 10.90), (10.49, 11.50), (10.57, 11.06), (10.41, 10.76), (10.54, 11.13), (10.46, 11.21),
    (10.73, 11.22), (10.62, 11.15), (10.78, 10.89), (10.67, 11.08), (10.75, 11.53), (10.64, 10.92),
    (10.71, 11.30), (10.69, 11.02), (10.77, 11.41), (10.61, 10.80), (10.74, 11.12), (10.66, 11.35),
    (10.93, 11.15), (10.82, 11.21), (10.98, 10.95), (10.87, 11.04), (10.95, 11.37), (10.84, 10.89),
    (10.91, 11.10), (10.89, 11.48), (10.97, 11.25), (10.81, 10.72), (10.94, 11.00), (10.86, 11.31),
    (11.13, 11.22), (11.02, 11.10), (11.18, 11.03), (11.07, 11.29), (11.15, 10.92), (11.04, 11.44),
    (11.11, 11.07), (11.09, 10.85), (11.17, 11.35), (11.01, 10.98), (11.14, 11.58),
    (11.33, 11.20), (11.22, 11.14), (11.38, 10.95), (11.27, 11.38), (11.35, 11.05), (11.24, 10.86),
    (11.31, 11.52), (11.29, 11.09), (11.37, 10.78), (11.21, 11.27), (11.34, 11.41),
    (11.53, 11.12), (11.42, 11.02), (11.58, 11.25), (11.47, 10.90), (11.55, 11.38), (11.44, 11.17),
    (11.51, 10.82), (11.49, 11.44), (11.57, 11.07), (11.41, 11.29),
    (11.73, 11.10), (11.62, 11.16), (11.78, 10.96), (11.67, 11.33), (11.75, 10.84), (11.64, 11.42),
    (11.71, 11.24), (11.69, 10.71), (11.77, 11.30), (11.61, 10.99),
    (11.93, 11.18), (11.82, 10.96), (11.98, 11.07), (11.87, 11.40), (11.95, 10.80), (11.84, 11.12),
    (11.91, 11.50), (11.89, 10.87), (11.97, 11.27), (11.81, 10.74),
    (12.13, 11.05), (12.02, 11.25), (12.18, 10.86), (12.07, 10.95), (12.15, 11.40), (12.04, 11.13),
    (12.11, 10.72), (12.09, 11.33), (12.17, 11.10),
    (12.33, 11.03), (12.22, 11.32), (12.38, 10.88), (12.27, 10.93), (12.35, 11.42), (12.24, 11.14),
    (12.31, 10.77), (12.29, 11.22), (12.37, 11.06),
    (12.53, 11.15), (12.42, 10.95), (12.58, 11.33), (12.47, 11.09), (12.55, 10.86), (12.44, 11.27),
    (12.51, 10.73), (12.57, 11.02),
    (12.73, 11.08), (12.62, 10.93), (12.78, 11.30), (12.67, 11.17), (12.75, 10.82), (12.64, 11.45),
    (12.71, 11.03), (12.69, 10.76),
    (12.93, 11.28), (12.82, 11.16), (12.98, 10.86), (12.87, 11.03), (12.95, 11.12), (12.84, 10.92),
    (12.91, 11.40),
    (13.13, 11.15), (13.02, 11.22), (13.27, 10.89), (13.36, 11.18), (13.45, 11.08), (13.22, 11.39),
    (13.41, 10.85), (13.06, 10.98),
    (13.55, 11.12), (13.68, 11.02), (13.85, 11.14), (14.00, 10.93), (14.22, 11.18), (13.93, 11.08),
    (13.72, 11.25), (14.12, 10.80),
    (10.26, 11.12), (10.30, 11.30), (10.34, 10.95), (10.38, 11.20), (10.42, 11.42), (10.45, 11.05),
    (10.48, 11.25), (10.51, 11.15), (10.54, 10.93), (10.57, 11.35), (10.60, 11.18), (10.63, 11.02),
    (10.66, 11.45), (10.69, 11.22), (10.72, 10.96), (10.75, 11.10), (10.78, 11.28), (10.81, 11.05),
    (10.84, 11.38), (10.87, 11.18), (10.90, 10.98), (10.93, 11.28), (10.96, 11.08), (10.99, 11.42),
    (11.02, 11.20), (11.05, 10.95), (11.08, 11.12), (11.11, 11.35), (11.14, 11.25), (11.17, 10.98),
    (11.20, 11.18), (11.23, 11.42), (11.26, 11.05), (11.29, 11.32), (11.32, 11.20), (11.35, 10.90),
    (11.38, 11.14), (11.41, 11.48), (11.44, 11.08), (11.47, 11.32), (11.50, 11.22), (11.55, 10.97),
    (11.60, 11.12), (11.65, 11.30), (11.70, 11.05), (11.75, 11.22), (11.80, 10.92), (11.85, 11.36),
    (11.90, 11.15), (11.95, 11.02), (12.00, 11.30), (12.05, 10.88), (12.10, 11.20), (12.20, 11.05),
    (12.30, 11.30), (12.40, 11.10), (12.50, 10.98), (12.60, 11.26), (12.70, 11.12), (12.80, 10.95),
    (12.90, 11.15), (10.05, 11.18), (10.10, 10.98), (10.15, 11.55), (10.20, 11.30), (9.95, 11.22),
    (9.85, 10.98), (9.75, 11.08), (10.45, 11.65), (10.65, 11.62), (10.85, 11.68), (11.05, 11.70),
    (11.25, 11.65), (10.40, 10.68), (10.60, 10.70), (10.80, 10.62), (11.00, 10.68), (11.20, 10.62),
    (11.40, 10.75), (11.60, 10.68),
]

panel_titles = [
    "(a) Physicians\u2019 earnings (commuting zones)",
    "(b) Physicians\u2019 earnings (CBSAs)",
    "(c) Other healthcare workers\u2019 earnings",
    "(d) Median house value",
]
x_titles = ["Log CZ population", "Log CBSA population", "Log CBSA population", "Log CBSA population"]
y_titles = ["Log Physicians' earnings", "Log physicians' earnings",
            "Log other HC workers' earnings", "Log property value"]
intercepts = [12.5794, 12.5994, 10.3307, 10.7048]
slopes = [-0.0098, -0.0038, 0.0449, 0.0368]
slope_se = ["0.0082", "0.0082", "0.0033", "0.0116"]
n_obs = [111, 893, 896, 896]
r_squared = ["0.0127", "0.0002", "0.1748", "0.0110"]
x_tick_vals = [[12, 14, 16], [10, 12, 14, 16, 18], [10, 12, 14, 16, 18], [10, 12, 14, 16, 18]]
y_tick_vals = [[12.2, 12.3, 12.4, 12.5, 12.6, 12.7], [10, 11, 12, 13, 14],
               [10.4, 10.6, 10.8, 11, 11.2, 11.4], [10, 11, 12, 13]]
y_tick_text = [["12.2", "12.3", "12.4", "12.5", "12.6", "12.7"], ["10", "11", "12", "13", "14"],
               ["10.4", "10.6", "10.8", "11", "11.2", "11.4"], ["10", "11", "12", "13"]]

# ---------------- layout geometry (pixels) ----------------
W, H = 1195, 975
SANS = "Liberation Sans, Arial, Helvetica, sans-serif"
SERIF = "Liberation Serif, Times New Roman, serif"

boxes = [  # left, right, top, bottom in px
    (47.7, 575.0, 67.7, 380.5),
    (667.7, 1193.0, 67.7, 380.5),
    (47.7, 575.0, 575.0, 888.0),
    (667.7, 1193.0, 575.0, 888.0),
]
x_ranges = [[11.391, 16.629], [9.288, 18.135], [9.288, 18.135], [9.288, 18.135]]
y_ranges = [[12.184, 12.724], [9.867, 14.122], [10.327, 11.435], [9.80, 13.106]]
title_pos = [(300, 22), (911, 22), (291, 532), (911, 532)]

all_points = [cz_points, cbsa_phys_points + cbsa_phys_more,
              cbsa_hc_points + cbsa_hc_more, cbsa_house_points + cbsa_house_more]


def px_x(p):
    return p / W


def px_y(p):
    return 1 - p / H


fig = go.Figure()
layout = dict(
    width=W, height=H, margin=dict(l=0, r=0, t=0, b=0, pad=0),
    paper_bgcolor="white", plot_bgcolor="white", showlegend=False,
)
annotations = []
shapes = []

for i in range(4):
    sfx = "" if i == 0 else str(i + 1)
    xa, ya = "x" + sfx, "y" + sfx
    pts = all_points[i]
    xs = [p[0] for p in pts]
    ys = [p[1] for p in pts]
    if i == 0:
        sizes = [11.5 + 0.35 * (x - 11.4) for x in xs]
    else:
        sizes = [11.5 + 0.55 * (x - 9.4) for x in xs]

    fig.add_trace(go.Scatter(
        x=xs, y=ys, mode="markers", xaxis=xa, yaxis=ya, hoverinfo="skip",
        marker=dict(size=sizes, color="rgba(173,216,230,0.6)",
                    line=dict(color="rgba(150,205,225,0.75)", width=1.3)),
    ))
    x0, x1 = min(xs), max(xs)
    fig.add_trace(go.Scatter(
        x=[x0, x1], y=[intercepts[i] + slopes[i] * x0, intercepts[i] + slopes[i] * x1],
        mode="lines", xaxis=xa, yaxis=ya, hoverinfo="skip",
        line=dict(color="#808080", width=1.6, dash="10px,4px"),
    ))
    fig.add_trace(go.Scatter(
        x=xs, y=ys, mode="markers", xaxis=xa, yaxis=ya, hoverinfo="skip",
        marker=dict(size=3.2, color="#0000ff", line=dict(width=0)),
    ))

    l, r, t, b = boxes[i]
    axis_common = dict(
        ticks="outside", ticklen=7, tickwidth=1.3, tickcolor="#000",
        showline=True, linecolor="#000", linewidth=1.8,
        showgrid=False, zeroline=False, fixedrange=True, automargin=False,
        tickfont=dict(family=SANS, size=14, color="#000"),
    )
    layout["xaxis" + sfx] = dict(
        domain=[px_x(l), px_x(r)], range=x_ranges[i], anchor=ya,
        tickvals=x_tick_vals[i], ticktext=[str(v) for v in x_tick_vals[i]],
        ticklabelstandoff=-4, **axis_common,
    )
    layout["yaxis" + sfx] = dict(
        domain=[px_y(b), px_y(t)], range=y_ranges[i], anchor=xa,
        tickvals=y_tick_vals[i], ticktext=y_tick_text[i], tickangle=-90, **axis_common,
    )
    shapes.append(dict(type="rect", xref=xa + " domain", yref=ya + " domain",
                       x0=0, x1=1, y0=0, y1=1, line=dict(color="#555", width=1.5),
                       fillcolor="rgba(0,0,0,0)", layer="above"))

    tx, ty = title_pos[i]
    annotations.append(dict(text=panel_titles[i], x=px_x(tx), y=px_y(ty), xref="paper", yref="paper",
                            showarrow=False, xanchor="center", yanchor="middle",
                            font=dict(family=SERIF, size=27, color="#000")))
    annotations.append(dict(text=x_titles[i], x=px_x((l + r) / 2), y=px_y(b + 30), xref="paper",
                            yref="paper", showarrow=False, xanchor="center", yanchor="middle",
                            font=dict(family=SANS, size=12, color="#000")))
    annotations.append(dict(text=y_titles[i], x=px_x(l - 34), y=px_y((t + b) / 2), xref="paper",
                            yref="paper", showarrow=False, xanchor="center", yanchor="middle",
                            textangle=-90, font=dict(family=SANS, size=12, color="#000")))
    sign = "-" if slopes[i] < 0 else "+"
    line1 = "Y = %.4f %s %.4f [%s] %s + \u03b5" % (intercepts[i], sign, abs(slopes[i]), slope_se[i], x_titles[i])
    line2 = "N = %d;\u00a0\u00a0R<sup>2</sup> = %s" % (n_obs[i], r_squared[i])
    annotations.append(dict(text=line1, x=px_x(l + 3), y=px_y(b + 60), xref="paper", yref="paper",
                            showarrow=False, xanchor="left", yanchor="middle",
                            font=dict(family=SANS, size=13.2, color="#000")))
    annotations.append(dict(text=line2, x=px_x(l + 3), y=px_y(b + 75), xref="paper", yref="paper",
                            showarrow=False, xanchor="left", yanchor="middle",
                            font=dict(family=SANS, size=13.2, color="#000")))

layout["annotations"] = annotations
layout["shapes"] = shapes
fig.update_layout(**layout)
fig.write_html("out.html", config={"displayModeBar": False, "staticPlot": True})

# remove the browser's default page margin so the figure sits at the top-left corner
with open("out.html", "r", encoding="utf-8") as fh:
    html = fh.read()
html = html.replace("<head>", "<head><style>html,body{margin:0;padding:0;overflow:hidden;}</style>", 1)
with open("out.html", "w", encoding="utf-8") as fh:
    fh.write(html)
